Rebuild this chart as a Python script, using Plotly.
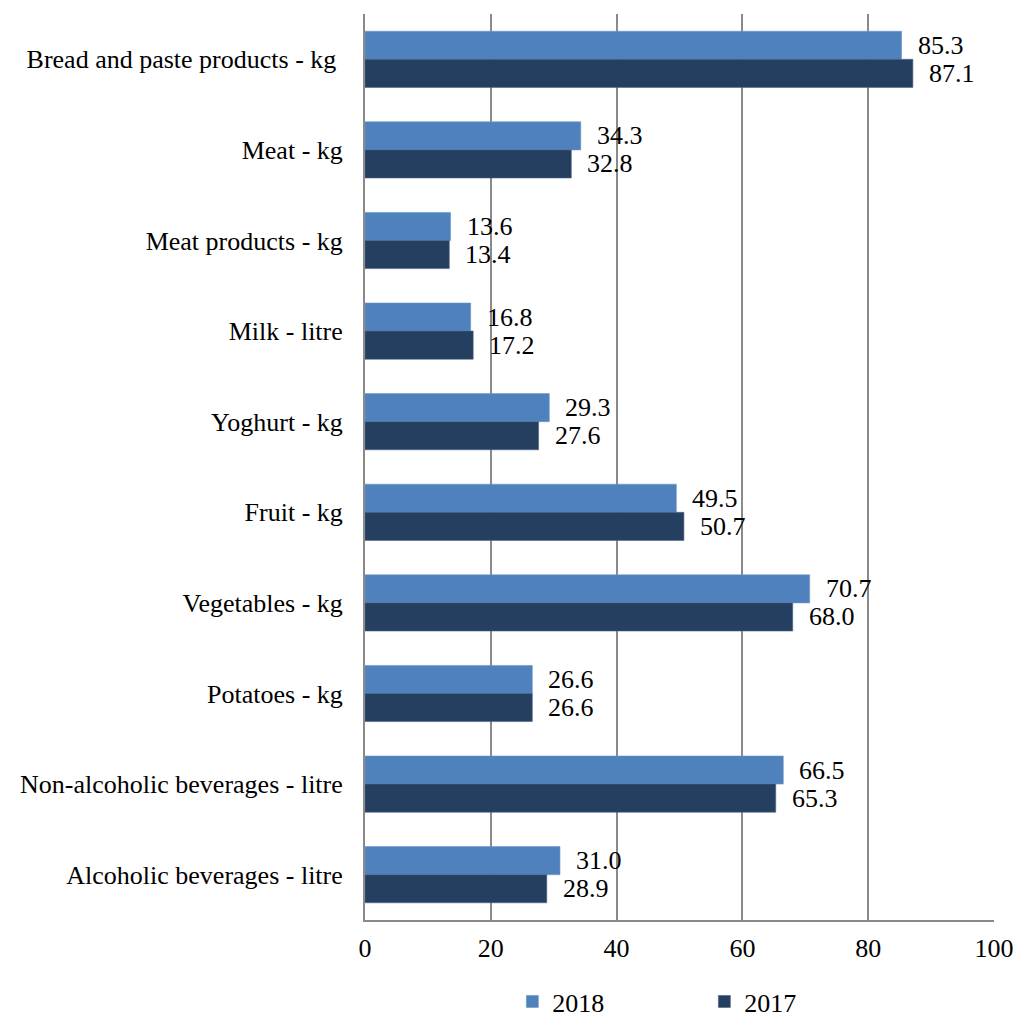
import plotly.graph_objects as go

categories = [
    "Bread and paste products - kg\u00a0",
    "Meat - kg",
    "Meat products - kg",
    "Milk - litre",
    "Yoghurt - kg",
    "Fruit - kg",
    "Vegetables - kg",
    "Potatoes - kg",
    "Non-alcoholic beverages - litre",
    "Alcoholic beverages - litre",
]
values_2018 = [85.3, 34.3, 13.6, 16.8, 29.3, 49.5, 70.7, 26.6, 66.5, 31.0]
values_2017 = [87.1, 32.8, 13.4, 17.2, 27.6, 50.7, 68.0, 26.6, 65.3, 28.9]
x_ticks = [0, 20, 40, 60, 80, 100]

FONT = "Liberation Serif, Times New Roman, serif"
C2018 = "#4F81BD"
C2017 = "#253F60"
GRID = "#8a8a8a"

fig = go.Figure()
fig.add_trace(go.Bar(
    y=categories, x=values_2018, orientation="h", name="2018",
    marker=dict(color=C2018, line=dict(color="#6f97c8", width=0.6)),
))
fig.add_trace(go.Bar(
    y=categories, x=values_2017, orientation="h", name="2017",
    marker=dict(color=C2017, line=dict(color="#4a6488", width=0.6)),
))

# value labels to the right of each bar
annotations = []
for i, cat in enumerate(categories):
    for val, off in ((values_2018[i], -0.155), (values_2017[i], 0.155)):
        annotations.append(dict(
            x=val, y=i + off, xref="x", yref="y",
            text=f"{val:.1f}", showarrow=False,
            xanchor="left", yanchor="middle", xshift=14,
            font=dict(family=FONT, size=26, color="black"),
        ))

fig.update_layout(
    width=1016, height=1021,
    margin=dict(l=365, r=22, t=14, b=101, autoexpand=False),
    paper_bgcolor="white", plot_bgcolor="white",
    barmode="group", bargap=0.38, bargroupgap=0,
    font=dict(family=FONT, size=26, color="black"),
    annotations=annotations,
    showlegend=True,
    legend=dict(
        orientation="h", x=0.2343, xanchor="left", y=-0.090, yanchor="middle",
        entrywidth=147, entrywidthmode="pixels",
        font=dict(family=FONT, size=26, color="black"),
        itemclick=False,
    ),
)
fig.update_xaxes(
    range=[0, 100], tickvals=x_ticks, ticktext=[str(t) for t in x_ticks],
    showgrid=True, gridcolor=GRID, gridwidth=2,
    showline=True, linecolor=GRID, linewidth=2,
    zeroline=False, ticks="", ticklabelstandoff=4, automargin=False,
    tickfont=dict(family=FONT, size=26, color="black"),
)
fig.update_yaxes(
    type="category", categoryorder="array", categoryarray=categories,
    autorange="reversed", automargin=False,
    showgrid=False, showline=True, linecolor=GRID, linewidth=2,
    ticks="", ticklabelstandoff=15,
    tickfont=dict(family=FONT, size=26, color="black"),
)

fig.write_html("out.html")
